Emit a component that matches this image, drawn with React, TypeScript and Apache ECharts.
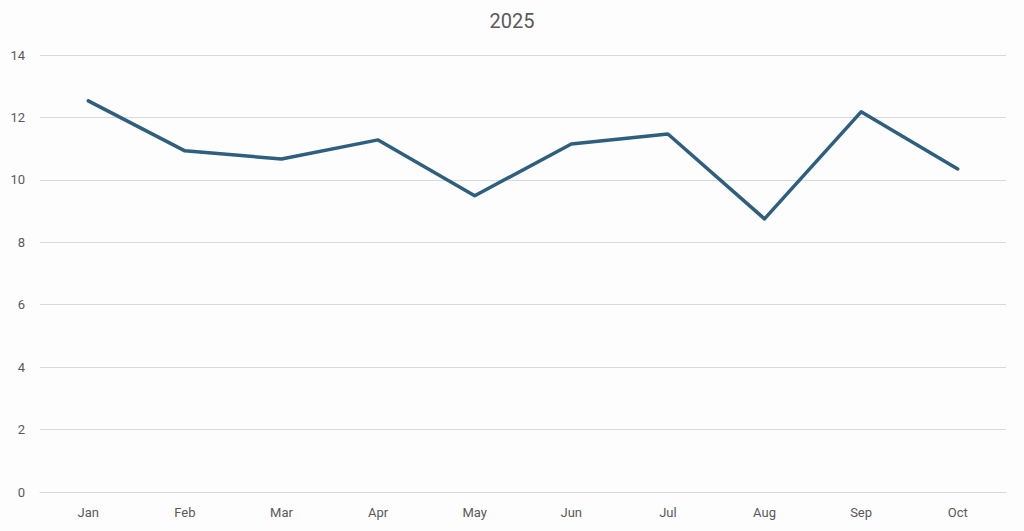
import React, { useEffect, useRef } from "react";
import * as echarts from "echarts";

const title = "2025";
const months = ["Jan", "Feb", "Mar", "Apr", "May", "Jun", "Jul", "Aug", "Sep", "Oct"];
const values = [12.53, 10.93, 10.67, 11.28, 9.49, 11.15, 11.47, 8.75, 12.18, 10.35];
const yMin = 0;
const yMax = 14;
const yStep = 2;

export default function App() {
  const ref = useRef<HTMLDivElement>(null);
  useEffect(() => {
    if (!ref.current) return;
    const chart = echarts.init(ref.current, null, { renderer: "svg" });
    chart.setOption({
      animation: false,
      backgroundColor: "#fdfdfd",
      title: {
        text: title,
        left: "center",
        top: 6,
        textStyle: { fontFamily: "Roboto, Arial, sans-serif", fontSize: 20, fontWeight: "normal", color: "#595959" },
      },
      grid: { left: 40, right: 18, top: 55, bottom: 39, containLabel: false },
      xAxis: {
        type: "category",
        data: months,
        boundaryGap: true,
        axisLine: { show: true, lineStyle: { color: "#d9d9d9", width: 1 } },
        axisTick: { show: false },
        axisLabel: { color: "#595959", fontSize: 13, fontFamily: "Roboto, Arial, sans-serif", margin: 14 },
      },
      yAxis: {
        type: "value",
        min: yMin,
        max: yMax,
        interval: yStep,
        axisLine: { show: false },
        axisTick: { show: false },
        splitLine: { lineStyle: { color: "#d9d9d9", width: 1 } },
        axisLabel: { color: "#595959", fontSize: 13, fontFamily: "Roboto, Arial, sans-serif", margin: 15 },
      },
      series: [
        {
          type: "line",
          data: values,
          symbol: "none",
          lineStyle: { color: "#2e5f7f", width: 3.5, join: "round", cap: "round" },
          itemStyle: { color: "#2e5f7f" },
        },
      ],
    });
    return () => chart.dispose();
  }, []);
  return (
    <div
      ref={ref}
      style={{ position: "fixed", left: 0, top: 0, width: 1024, height: 531 }}
    />
  );
}
